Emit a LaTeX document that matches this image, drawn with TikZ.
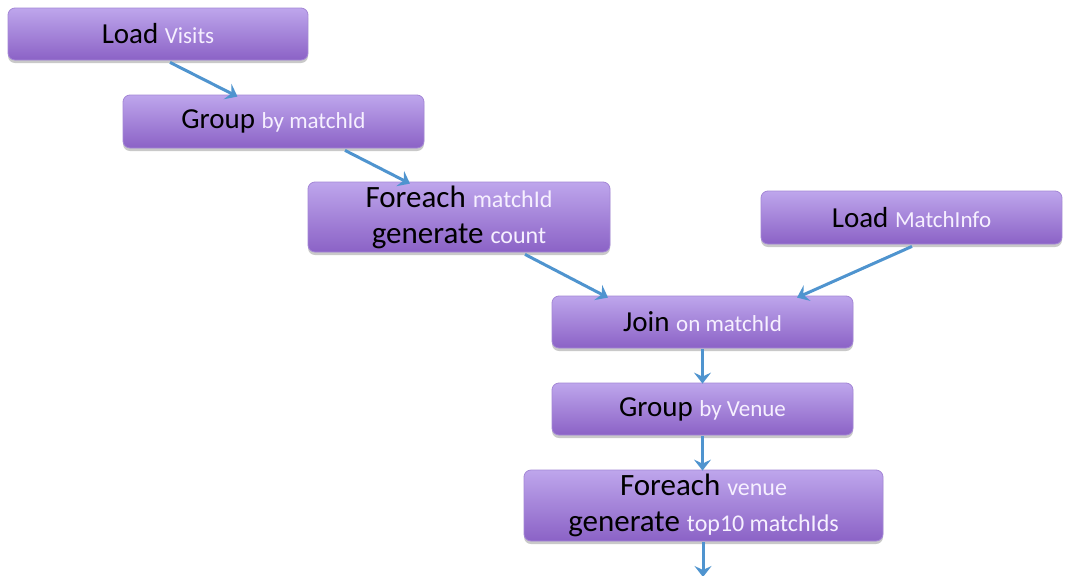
\documentclass[tikz,border=0pt]{standalone}
\usepackage{fontspec}
\setmainfont{Carlito}
\usetikzlibrary{arrows.meta,shadows}
\definecolor{boxtop}{HTML}{BEA6EC}
\definecolor{boxbot}{HTML}{8B62C6}
\definecolor{boxedge}{HTML}{A487D6}
\definecolor{arrowblue}{HTML}{4F94CF}
\definecolor{soft}{HTML}{F6F0FF}
\tikzset{
  opbox/.style={rounded corners=7pt, top color=boxtop, bottom color=boxbot,
    draw=boxedge, line width=0.8pt, align=center, inner sep=0pt,
    font=\fontsize{29}{36}\selectfont,
    drop shadow={shadow xshift=0pt, shadow yshift=-3pt, opacity=0.35, fill=black!60}},
  twoline/.style={font=\fontsize{31}{36}\selectfont},
  arr/.style={draw=arrowblue, line width=3pt,
    -{Stealth[length=11pt,width=17pt,inset=4pt]}},
}
\newcommand{\oparg}[1]{{\fontsize{23}{36}\selectfont\color{soft}#1}}
\newcommand{\opargb}[1]{{\fontsize{24}{36}\selectfont\color{soft}#1}}
\begin{document}
\begin{tikzpicture}[x=1pt,y=-1pt]
\useasboundingbox (0,0) rectangle (1069,576);
\fill[white] (0,0) rectangle (1069,576);

\node[opbox, minimum width=300pt, minimum height=52pt] (loadv) at (158,34) {Load \oparg{Visits}};
\node[opbox, minimum width=301pt, minimum height=53pt] (grpm) at (273.5,121.5) {Group \oparg{by matchId}};
\node[opbox, twoline, minimum width=302pt, minimum height=70pt] (fecnt) at (459,217) {Foreach \opargb{matchId}\\generate \opargb{count}};
\node[opbox, minimum width=301pt, minimum height=53pt] (loadm) at (911.5,217.5) {Load \oparg{MatchInfo}};
\node[opbox, minimum width=301pt, minimum height=52pt] (join) at (702.5,322) {Join \oparg{on matchId}};
\node[opbox, minimum width=301pt, minimum height=52pt] (grpv) at (702.5,409) {Group \oparg{by Venue}};
\node[opbox, twoline, minimum width=359pt, minimum height=71pt] (fetop) at (703.5,505.5) {Foreach \opargb{venue}\\generate \opargb{top10 matchIds}};
\coordinate (out) at (703,577);

\draw[arr] ([xshift=12pt,yshift=-2pt]loadv.south) -- ([xshift=-36pt,yshift=-2pt]grpm.north);
\draw[arr] ([xshift=71.5pt,yshift=-2pt]grpm.south) -- ([xshift=-49pt,yshift=-2pt]fecnt.north);
\draw[arr] ([xshift=66pt,yshift=-2pt]fecnt.south) -- ([xshift=-94.5pt,yshift=-2pt]join.north);
\draw[arr] ([xshift=0.5pt,yshift=-2pt]loadm.south) -- ([xshift=94.5pt,yshift=-2pt]join.north);
\draw[arr] ([yshift=-1pt]join.south) -- ([yshift=-1pt]grpv.north);
\draw[arr] ([yshift=-1pt]grpv.south) -- ([xshift=-1pt,yshift=-1pt]fetop.north);
\draw[arr] ([xshift=-0.5pt,yshift=-1pt]fetop.south) -- (out);
\end{tikzpicture}
\end{document}
